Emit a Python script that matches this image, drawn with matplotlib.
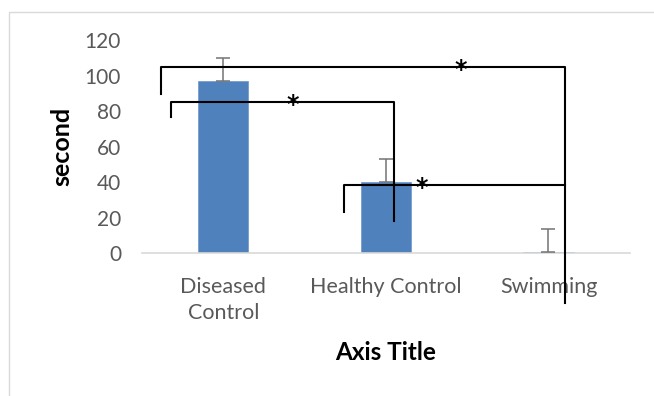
import matplotlib.pyplot as plt
from matplotlib.patches import Rectangle

plt.rcParams['font.family'] = ['Lato', 'DejaVu Sans']

groups = ['Diseased\nControl', 'Healthy Control', 'Swimming']
means = [97, 40, 0.6]
errors = [13, 13, 13]
yticks = [0, 20, 40, 60, 80, 100, 120]

# significance brackets: left x, right x, bar height, left tail, right tail, star x
brackets = [
    (-0.38, 2.10, 104.8, 89.6, -28.2, 1.46),
    (-0.32, 1.05, 85.1, 76.6, 18.0, 0.43),
    (0.74, 2.10, 38.3, 23.1, 38.3, 1.22),
]

fig = plt.figure(figsize=(6.54, 3.96), dpi=100)
ax = fig.add_axes([0.217, 0.361, 0.746, 0.538])

x = list(range(len(groups)))
ax.bar(x, means, width=0.31, color='#4f81bd', edgecolor='#6d95c9', linewidth=0.5, zorder=2)
ax.errorbar(x, means, yerr=[[0] * len(errors), errors], fmt='none',
            ecolor='#737373', elinewidth=1.1, capsize=5, capthick=1.1, zorder=3)

for x0, x1, h, lt, rt, sx in brackets:
    ax.plot([x0, x0, x1, x1], [lt, h, h, rt], color='black', lw=1.5,
            clip_on=False, zorder=4)
    ax.text(sx, h - 1.5, '*', ha='center', va='center', fontsize=17,
            fontweight='bold', family='DejaVu Sans', color='black',
            clip_on=False, zorder=5)

ax.set_xlim(-0.5, 2.5)
ax.set_ylim(0, 120)
ax.set_yticks(yticks)
ax.set_xticks(x)
ax.set_xticklabels(groups, fontsize=15.5, color='#595959', linespacing=1.4)
ax.tick_params(axis='y', labelsize=15, labelcolor='#595959', length=0, pad=15)
ax.tick_params(axis='x', length=0, pad=17)
for s in ['top', 'right', 'left']:
    ax.spines[s].set_visible(False)
ax.spines['bottom'].set_color('#d9d9d9')
ax.spines['bottom'].set_linewidth(1.2)

ax.set_ylabel('second', fontsize=18, fontweight='bold', labelpad=8)
ax.set_xlabel('Axis Title', fontsize=17.5, fontweight='bold', labelpad=13)

fig.patches.append(Rectangle((9 / 654, -0.1), 1.2, 1.1 - 12 / 396, transform=fig.transFigure,
                             fill=False, edgecolor='#d9d9d9', linewidth=1.0))

fig.savefig('out.png', dpi=100)
